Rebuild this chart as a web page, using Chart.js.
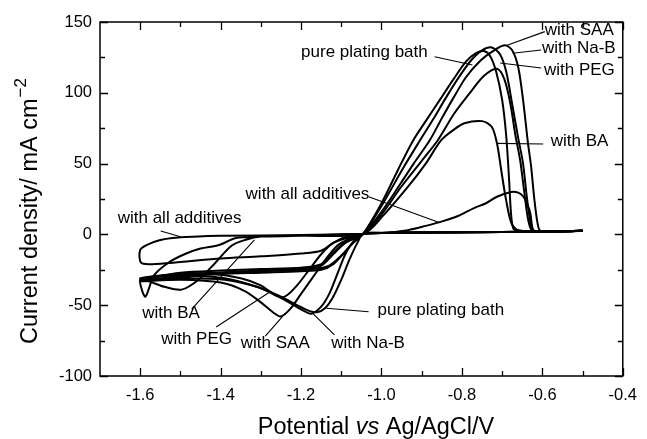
<!DOCTYPE html>
<html>
<head>
<meta charset="utf-8">
<script src="https://cdn.jsdelivr.net/npm/chart.js@4"></script>
<style>
html, body { margin: 0; padding: 0; background: #fff; }
canvas { display: block; }
</style>
</head>
<body>
<canvas id="cv" width="647" height="439"></canvas>
<script>
// axis ticks
const xTicks = [-1.6, -1.4, -1.2, -1.0, -0.8, -0.6, -0.4];
const yTicks = [-100, -50, 0, 50, 100, 150];

// each curve: potential (V) and current density (mA cm-2), scanned -0.5 -> -1.6 -> -0.5
const pureV = [-0.5, -0.6, -0.8, -1.0, -1.045, -1.06, -1.08, -1.10, -1.12, -1.14, -1.16, -1.18, -1.21, -1.25, -1.31, -1.39, -1.5, -1.6,
  -1.55, -1.45, -1.35, -1.25, -1.17, -1.13, -1.1, -1.07, -1.045,
  -1.0, -0.96, -0.922, -0.89, -0.855, -0.82, -0.79, -0.765, -0.745, -0.73, -0.715, -0.70, -0.69, -0.683, -0.678, -0.672, -0.66, -0.6, -0.5];
const pureJ = [2.5, 2, 1.5, 1, 0.5, -6, -18, -32, -44, -52, -55, -54, -50, -44, -37, -31, -29, -31,
  -29, -27.5, -26.5, -25.5, -24.5, -22, -15, -6, 0.5,
  22, 45, 66, 80, 95, 110, 122, 128, 129.5, 126, 115, 95, 70, 40, 15, 4, 2.5, 2, 2.5];

const nabV = [-0.5, -0.6, -0.8, -1.0, -1.045, -1.07, -1.09, -1.11, -1.13, -1.15, -1.175, -1.2, -1.23, -1.27, -1.31, -1.39, -1.5, -1.6,
  -1.5, -1.4, -1.3, -1.2, -1.15, -1.12, -1.09, -1.065, -1.045,
  -1.0, -0.95, -0.904, -0.87, -0.843, -0.81, -0.777, -0.75, -0.726, -0.705, -0.69, -0.675, -0.66, -0.648, -0.638, -0.628, -0.62, -0.58, -0.5];
const nabJ = [2.5, 2, 1.5, 1, 0.5, -5, -14, -28, -42, -51, -56, -53, -48, -42, -37, -32, -31, -33,
  -30, -28, -27, -26, -25, -21, -12, -4, 0.5,
  20, 45, 66.5, 82, 95, 110, 123, 130, 132, 127, 115, 92, 68, 50, 25, 6, 2.5, 2, 2.5];

const saaV = [-0.5, -0.6, -0.8, -1.0, -1.045, -1.08, -1.11, -1.14, -1.17, -1.2, -1.225, -1.25, -1.27, -1.3, -1.34, -1.4, -1.5, -1.6,
  -1.5, -1.4, -1.3, -1.2, -1.15, -1.12, -1.09, -1.06, -1.045,
  -1.0, -0.95, -0.92, -0.88, -0.85, -0.824, -0.79, -0.753, -0.72, -0.693, -0.675, -0.66, -0.648, -0.636, -0.628, -0.62, -0.612, -0.605, -0.57, -0.5];
const saaJ = [2.5, 2, 1.5, 1, 0.5, -3, -8, -18, -30, -42, -52, -58, -55, -48, -40, -34, -32, -33,
  -29.5, -27, -25.5, -24.5, -22, -14, -6, -2, 0.5,
  16, 37, 50, 66.5, 82, 95, 111, 123, 130, 133.5, 130, 118, 95, 65, 48, 25, 8, 2.5, 2, 2.5];

const pegV = [-0.5, -0.6, -0.8, -1.0, -1.045, -1.08, -1.12, -1.15, -1.18, -1.21, -1.235, -1.25, -1.27, -1.3, -1.35, -1.42, -1.5, -1.6,
  -1.5, -1.4, -1.3, -1.2, -1.15, -1.12, -1.09, -1.06, -1.045,
  -1.0, -0.95, -0.9, -0.86, -0.82, -0.78, -0.745, -0.713, -0.695, -0.68, -0.667, -0.655, -0.645, -0.635, -0.625, -0.59, -0.5];
const pegJ = [2.5, 2, 1.5, 1, 0.5, -2, -6, -14, -25, -36, -43, -44.5, -42, -36, -31, -28, -28, -32,
  -27, -25.5, -24.5, -23.5, -21, -13, -5, -1, 0.5,
  14, 34, 52, 66.5, 85, 100, 112, 117, 110, 93, 70, 52, 30, 10, 2.5, 2, 2.5];

const baV = [-0.5, -0.6, -0.8, -1.0, -1.045, -1.2, -1.3, -1.34, -1.373, -1.413, -1.455, -1.497, -1.54, -1.58, -1.6,
  -1.595, -1.587, -1.578, -1.566, -1.53, -1.49, -1.45, -1.404, -1.362, -1.3, -1.2, -1.045,
  -1.0, -0.934, -0.89, -0.851, -0.82, -0.794, -0.75, -0.726, -0.713, -0.701, -0.69, -0.677, -0.66, -0.6, -0.5];
const baJ = [2.5, 2, 1.5, 1, 0.5, -1, -1.5, -4, -8, -20, -32, -39, -37, -33, -32,
  -40, -44, -38, -29, -20, -14, -10, -7.5, -2.5, -1.5, -1, 0.5,
  12, 33.7, 50, 66.7, 74, 78.5, 80, 76, 64.5, 43, 24, 8, 3, 2, 2.5];

const allV = [-0.5, -0.6, -0.8, -1.0, -1.045, -1.2, -1.4, -1.468, -1.52, -1.55, -1.58, -1.6,
  -1.598, -1.57, -1.5, -1.4, -1.3, -1.2, -1.15, -1.12, -1.09, -1.045,
  -0.98, -0.934, -0.89, -0.851, -0.81, -0.77, -0.74, -0.713, -0.677, -0.66, -0.647, -0.637, -0.63, -0.624, -0.615, -0.5];
const allJ = [2.5, 2, 1.5, 1, 0.5, -0.5, -1, -1.6, -2.5, -4, -7, -11,
  -20, -21, -19.5, -17, -15.5, -13.5, -11.5, -6, -2, 0.5,
  1.5, 3, 6, 9, 13, 18.6, 22, 26.6, 30, 29.5, 26.6, 21, 15, 4, 2, 2.5];

const curves = [[pureV, pureJ], [nabV, nabJ], [saaV, saaJ], [pegV, pegJ], [baV, baJ], [allV, allJ]];

// curve labels with leader lines, in data units
const notes = [
  { text: 'with SAA', at: [-0.594, 144.4], from: [-0.594, 143.2], to: [-0.691, 133.3] },
  { text: 'with Na-B', at: [-0.601, 131.6], from: [-0.603, 130.2], to: [-0.674, 127.9] },
  { text: 'with PEG', at: [-0.596, 115.7], from: [-0.603, 117.5], to: [-0.705, 121] },
  { text: 'pure plating bath', at: [-0.885, 128.5], align: 'right', from: [-0.868, 125.5], to: [-0.774, 119.6] },
  { text: 'with BA', at: [-0.579, 65.9], from: [-0.598, 63.8], to: [-0.713, 64.3] },
  { text: 'with all additives', at: [-1.338, 28.5], from: [-1.032, 26.6], to: [-0.855, 8.3] },
  { text: 'with all additives', at: [-1.656, 11.2], from: [-1.549, 2.4], to: [-1.5, -1.6] },
  { text: 'with BA', at: [-1.595, -55.9], from: [-1.472, -52.7], to: [-1.316, -3.8] },
  { text: 'with PEG', at: [-1.548, -74.2], from: [-1.411, -65.4], to: [-1.274, -40] },
  { text: 'with SAA', at: [-1.35, -77], from: [-1.289, -71.8], to: [-1.247, -58.3] },
  { text: 'with Na-B', at: [-1.125, -77], from: [-1.117, -71], to: [-1.171, -55.7] },
  { text: 'pure plating bath', at: [-1.01, -53.4], from: [-1.032, -54.6], to: [-1.137, -52.2] }
];

const FONT = '"Liberation Sans", Arial, Helvetica, sans-serif';

const framePlugin = {
  id: 'frame',
  afterDraw(chart) {
    const { ctx, chartArea: a, scales: { x, y } } = chart;
    ctx.save();
    ctx.strokeStyle = '#000';
    ctx.fillStyle = '#000';

    // box
    ctx.lineWidth = 1.5;
    ctx.strokeRect(a.left, a.top, a.right - a.left, a.bottom - a.top);

    // inward ticks on all four sides, minor ticks halfway
    ctx.lineWidth = 1.3;
    ctx.beginPath();
    xTicks.forEach(v => {
      [[v, 8], [v + 0.1, 5]].forEach(([t, len]) => {
        if (t > x.max + 1e-6) return;
        const px = Math.round(x.getPixelForValue(t)) + 0.5;
        ctx.moveTo(px, a.bottom); ctx.lineTo(px, a.bottom - len);
        ctx.moveTo(px, a.top); ctx.lineTo(px, a.top + len);
      });
    });
    yTicks.forEach(v => {
      [[v, 8], [v + 25, 5]].forEach(([t, len]) => {
        if (t > y.max + 1e-6) return;
        const py = Math.round(y.getPixelForValue(t)) + 0.5;
        ctx.moveTo(a.left, py); ctx.lineTo(a.left + len, py);
        ctx.moveTo(a.right, py); ctx.lineTo(a.right - len, py);
      });
    });
    ctx.stroke();

    // leader lines and labels
    ctx.lineWidth = 1.1;
    ctx.beginPath();
    notes.forEach(n => {
      ctx.moveTo(x.getPixelForValue(n.from[0]), y.getPixelForValue(n.from[1]));
      ctx.lineTo(x.getPixelForValue(n.to[0]), y.getPixelForValue(n.to[1]));
    });
    ctx.stroke();
    ctx.font = '17px ' + FONT;
    ctx.textBaseline = 'middle';
    notes.forEach(n => {
      ctx.textAlign = n.align || 'left';
      ctx.fillText(n.text, x.getPixelForValue(n.at[0]), y.getPixelForValue(n.at[1]));
    });

    // x axis title with italic "vs"
    ctx.textBaseline = 'alphabetic';
    ctx.textAlign = 'left';
    const parts = [['Potential ', ''], ['vs', 'italic '], [' Ag/AgCl/V', '']];
    let total = 0;
    parts.forEach(([s, st]) => { ctx.font = st + '23.5px ' + FONT; total += ctx.measureText(s).width; });
    let cx = 376 - total / 2;
    parts.forEach(([s, st]) => {
      ctx.font = st + '23.5px ' + FONT;
      ctx.fillText(s, cx, 434);
      cx += ctx.measureText(s).width;
    });

    // y axis title, rotated, with superscript
    ctx.save();
    ctx.translate(37, 344);
    ctx.rotate(-Math.PI / 2);
    ctx.font = '23.5px ' + FONT;
    const main = 'Current density/ mA cm';
    ctx.fillText(main, 0, 0);
    const w = ctx.measureText(main).width;
    ctx.font = '17px ' + FONT;
    ctx.fillText('\u22122', w + 1, -11);
    ctx.restore();

    ctx.restore();
  }
};

new Chart(document.getElementById('cv'), {
  type: 'scatter',
  data: {
    datasets: curves.map(([vs, js]) => ({
      data: vs.map((v, i) => ({ x: v, y: js[i] })),
      showLine: true,
      borderColor: '#000',
      borderWidth: 2,
      pointRadius: 0,
      tension: 0.3,
      fill: false
    }))
  },
  options: {
    responsive: false,
    animation: false,
    layout: { padding: { top: 22, right: 16, left: 0, bottom: 0 } },
    plugins: { legend: { display: false }, tooltip: { enabled: false } },
    scales: {
      x: {
        type: 'linear',
        min: -1.7,
        max: -0.4,
        afterBuildTicks: s => { s.ticks = xTicks.map(v => ({ value: v })); },
        afterFit: s => { s.height = 63; },
        grid: { display: false, drawTicks: false },
        border: { display: false },
        ticks: {
          color: '#000',
          padding: 10,
          maxRotation: 0,
          font: { family: FONT, size: 16.5 },
          callback: v => v.toFixed(1)
        }
      },
      y: {
        min: -100,
        max: 150,
        afterBuildTicks: s => { s.ticks = yTicks.map(v => ({ value: v })); },
        afterFit: s => { s.width = 100; },
        grid: { display: false, drawTicks: false },
        border: { display: false },
        ticks: {
          color: '#000',
          padding: 8,
          font: { family: FONT, size: 16.5 },
          callback: v => String(v)
        }
      }
    }
  },
  plugins: [framePlugin]
});
</script>
</body>
</html>
